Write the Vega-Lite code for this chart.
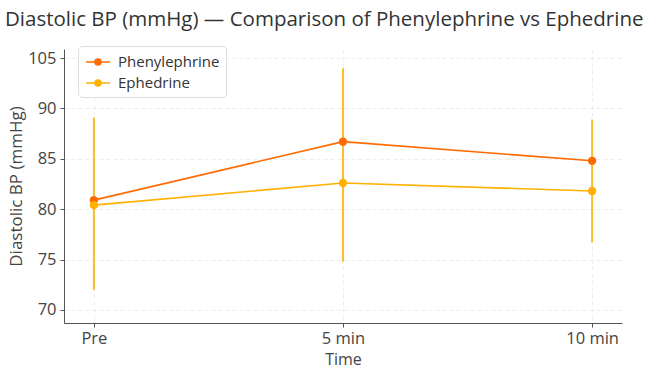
{
  "$schema": "https://vega.github.io/schema/vega-lite/v6.json",
  "width": 558,
  "height": 274,
  "autosize": {"type": "none"},
  "padding": {"left": 64, "top": 49, "right": 40, "bottom": 46},
  "background": "white",
  "config": {
    "font": "Open Sans",
    "view": {"stroke": null},
    "axis": {
      "labelFont": "Open Sans",
      "titleFont": "Open Sans",
      "labelColor": "#444444",
      "titleColor": "#444444",
      "labelFontSize": 16.5,
      "titleFontWeight": "normal",
      "domainColor": "#555555",
      "tickColor": "#555555",
      "tickSize": 4,
      "gridColor": "#e8e8e8",
      "gridDash": [4, 3],
      "gridWidth": 0.8
    }
  },
  "title": {
    "text": "Diastolic BP (mmHg) — Comparison of Phenylephrine vs Ephedrine",
    "anchor": "start",
    "frame": "group",
    "fontSize": 20.5,
    "fontWeight": "normal",
    "color": "#333333",
    "font": "Open Sans",
    "dx": -59,
    "offset": 15
  },
  "datasets": {
    "means": [
      {"time": "Pre", "drug": "Phenylephrine", "mean": 80.9},
      {"time": "5 min", "drug": "Phenylephrine", "mean": 86.7},
      {"time": "10 min", "drug": "Phenylephrine", "mean": 84.8},
      {"time": "Pre", "drug": "Ephedrine", "mean": 80.4},
      {"time": "5 min", "drug": "Ephedrine", "mean": 82.6},
      {"time": "10 min", "drug": "Ephedrine", "mean": 81.8}
    ],
    "errors": [
      {"time": "Pre", "drug": "Ephedrine", "lo": 72.0, "hi": 89.1},
      {"time": "5 min", "drug": "Ephedrine", "lo": 74.8, "hi": 94.0},
      {"time": "10 min", "drug": "Ephedrine", "lo": 76.7, "hi": 88.9}
    ]
  },
  "encoding": {
    "x": {
      "field": "time",
      "type": "ordinal",
      "sort": ["Pre", "5 min", "10 min"],
      "scale": {"type": "point", "padding": 0.12},
      "axis": {"title": "Time", "titleFontSize": 16, "labelAngle": 0, "grid": true, "labelPadding": 3, "titlePadding": 5}
    }
  },
  "layer": [
    {
      "data": {"name": "errors"},
      "mark": {"type": "rule", "color": "#F8BE2C", "strokeWidth": 2},
      "encoding": {
        "y": {"field": "lo", "type": "quantitative"},
        "y2": {"field": "hi"}
      }
    },
    {
      "data": {"name": "means"},
      "mark": {"type": "line", "strokeWidth": 1.6},
      "encoding": {
        "y": {
          "field": "mean",
          "type": "quantitative",
          "scale": {"domain": [68.7, 95.9], "nice": false, "zero": false},
          "axis": {
            "title": "Diastolic BP (mmHg)",
            "titleFontSize": 17,
            "values": [70, 75, 80, 85, 90, 95],
            "labelExpr": "datum.value == 95 ? '105' : datum.label",
            "labelPadding": 4,
            "titlePadding": 2
          }
        },
        "color": {
          "field": "drug",
          "type": "nominal",
          "scale": {"domain": ["Phenylephrine", "Ephedrine"], "range": ["#FF6A00", "#FFB000"]},
          "legend": {
            "title": null,
            "orient": "none",
            "legendX": 14,
            "legendY": -3,
            "padding": 6,
            "strokeColor": "#dddddd",
            "fillColor": "rgba(255,255,255,0.85)",
            "cornerRadius": 4,
            "labelFontSize": 15,
            "labelColor": "#333333",
            "labelFont": "Open Sans",
            "symbolType": "M-1.33,0H1.33M-0.33,0A0.33,0.33 0 1,0 0.33,0A0.33,0.33 0 1,0 -0.33,0",
            "symbolSize": 324,
            "symbolStrokeWidth": 1.6,
            "symbolOffset": 4,
            "rowPadding": 3,
            "labelOffset": 10,
            "encode": {"symbols": {"update": {"fill": {"scale": "color", "field": "value"}}}}
          }
        }
      }
    },
    {
      "data": {"name": "means"},
      "mark": {"type": "point", "filled": true, "size": 70, "opacity": 1},
      "encoding": {
        "y": {"field": "mean", "type": "quantitative"},
        "color": {"field": "drug", "type": "nominal"}
      }
    }
  ]
}
